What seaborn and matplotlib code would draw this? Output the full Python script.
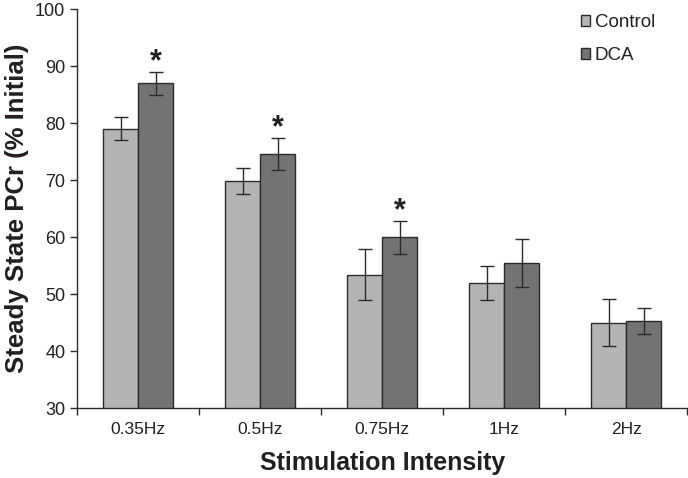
import matplotlib
matplotlib.use("Agg")
import matplotlib.pyplot as plt
import seaborn as sns
import pandas as pd
import numpy as np

# data
freqs = ["0.35Hz", "0.5Hz", "0.75Hz", "1Hz", "2Hz"]
control_mean = [79.0, 69.8, 53.4, 51.9, 45.0]
control_err = [2.0, 2.3, 4.5, 3.0, 4.1]
dca_mean = [87.0, 74.6, 60.0, 55.4, 45.3]
dca_err = [2.0, 2.8, 2.9, 4.2, 2.2]
significant = [True, True, True, False, False]

groups = ["Control", "DCA"]
colors = ["#b3b4b6", "#727376"]
text_color = "#231f20"

df = pd.DataFrame({
    "freq": freqs * 2,
    "pcr": control_mean + dca_mean,
    "group": ["Control"] * len(freqs) + ["DCA"] * len(freqs),
})

sns.set_style("white")
plt.rcParams["font.family"] = ["Liberation Sans", "DejaVu Sans"]
plt.rcParams["text.color"] = text_color
plt.rcParams["axes.labelcolor"] = text_color
plt.rcParams["xtick.color"] = text_color
plt.rcParams["ytick.color"] = text_color

fig = plt.figure(figsize=(6.88, 4.78), dpi=100)
ax = fig.add_axes([0.112, 0.146, 0.887, 0.835])

sns.barplot(data=df, x="freq", y="pcr", hue="group", palette=colors,
            errorbar=None, width=0.575, edgecolor="#2b2b2b", linewidth=1.0,
            ax=ax, zorder=2)

# error bars and significance marks
x = np.arange(len(freqs))
off = 0.575 / 4
ax.errorbar(x - off, control_mean, yerr=control_err, fmt="none",
            ecolor="#2b2b2b", elinewidth=1.0, capsize=5, capthick=1.0, zorder=3)
ax.errorbar(x + off, dca_mean, yerr=dca_err, fmt="none",
            ecolor="#2b2b2b", elinewidth=1.0, capsize=5, capthick=1.0, zorder=3)
for i, sig in enumerate(significant):
    if sig:
        ax.text(x[i] + off, dca_mean[i] + dca_err[i] - 0.9, "*", ha="center",
                va="bottom", fontsize=22, fontweight="bold", color=text_color)

ax.set_ylim(30, 100)
ax.set_xlim(-0.5, len(freqs) - 0.5)
ax.set_yticks(range(30, 101, 10))

# tick marks between categories, labels at centres
ax.set_xticks(np.arange(-0.5, len(freqs), 1.0))
ax.set_xticklabels([])
ax.set_xticks(x, minor=True)
ax.set_xticklabels(freqs, minor=True, fontsize=12.5)
ax.tick_params(axis="x", which="major", direction="out", length=5, width=1,
               bottom=True, color="#2b2b2b")
ax.tick_params(axis="x", which="minor", length=0, pad=10)
ax.tick_params(axis="y", direction="out", length=5, width=1, left=True,
               labelsize=13, color="#2b2b2b")

for side in ["top", "right"]:
    ax.spines[side].set_visible(False)
for side in ["left", "bottom"]:
    ax.spines[side].set_color("#2b2b2b")
    ax.spines[side].set_linewidth(1.0)

ax.set_xlabel("Stimulation Intensity", fontsize=18, fontweight="bold", labelpad=10)
ax.set_ylabel("Steady State PCr (% Initial)", fontsize=18.5, fontweight="bold", labelpad=4)

ax.legend(loc="upper right", bbox_to_anchor=(0.975, 1.03), frameon=False,
          fontsize=13.5, handlelength=0.5, handleheight=0.5, handletextpad=0.25,
          labelspacing=0.85)

fig.savefig("out.png", dpi=100)
